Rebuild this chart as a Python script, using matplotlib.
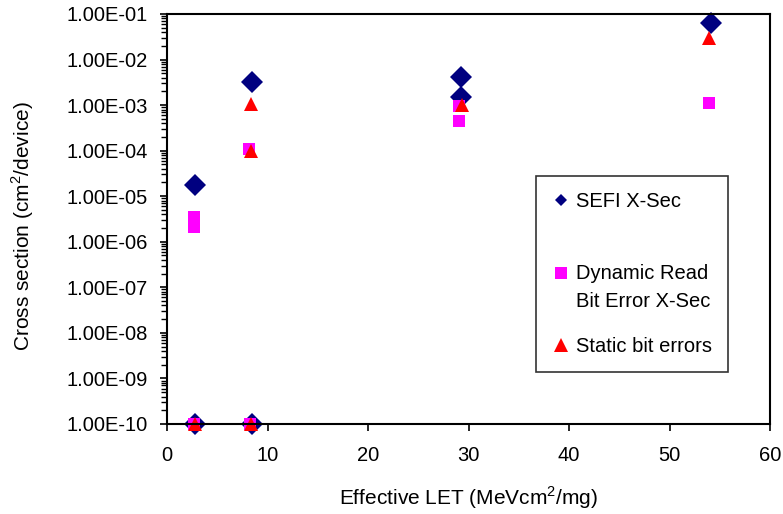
import matplotlib
matplotlib.use("Agg")
import matplotlib.pyplot as plt
from matplotlib.ticker import FuncFormatter, LogLocator, NullFormatter
from matplotlib.lines import Line2D
from matplotlib.legend_handler import HandlerLine2D

plt.rcParams['font.family'] = ['Liberation Sans', 'DejaVu Sans']
plt.rcParams['mathtext.fontset'] = 'custom'
plt.rcParams['mathtext.rm'] = 'Liberation Sans'

# SEFI cross sections
sefi_let = [2.8, 2.8, 8.5, 8.5, 29.3, 29.3, 54.1]
sefi_xs = [1.8e-5, 1e-10, 3.2e-3, 1e-10, 4.2e-3, 1.5e-3, 6.3e-2]

# dynamic read bit errors
dyn_let = [2.7, 2.7, 2.7, 8.2, 8.3, 29.1, 29.1, 53.9]
dyn_xs = [3.5e-6, 2.1e-6, 1e-10, 1.1e-4, 1e-10, 4.5e-4, 9.5e-4, 1.1e-3]

# static bit errors
stat_let = [2.8, 8.4, 8.4, 8.4, 29.4, 53.9]
stat_xs = [1e-10, 1.05e-3, 1.0e-4, 1e-10, 1.0e-3, 3.0e-2]

labels = ['SEFI X-Sec\n ', 'Dynamic Read\nBit Error X-Sec', 'Static bit errors']


# legend marker sits on the first line of a 2-line label (like excel)
class FirstLine(HandlerLine2D):
    def __init__(self, shift=0, **kw):
        super().__init__(**kw)
        self.shift = shift

    def create_artists(self, legend, orig_handle, xdescent, ydescent, width, height, fontsize, trans):
        return super().create_artists(legend, orig_handle, xdescent, ydescent - 2 * self.shift,
                                      width, height, fontsize, trans)


fig = plt.figure(figsize=(7.83, 5.14), dpi=100)
ax = fig.add_axes([0.2133, 0.1751, 0.7701, 0.7977])

ax.plot(sefi_let, sefi_xs, 'D', color='#000080', ms=11, mew=0, clip_on=False)
ax.plot(dyn_let, dyn_xs, 's', color='#FF00FF', ms=8.5, mew=0, clip_on=False)
ax.plot(stat_let, stat_xs, '^', color='#FF0000', ms=10, mew=0, clip_on=False)

ax.set_yscale('log')
ax.set_xlim(0, 60)
ax.set_ylim(1e-10, 1e-1)
ax.set_xticks(range(0, 61, 10))
ax.yaxis.set_major_locator(LogLocator(base=10, numticks=20))
ax.yaxis.set_minor_locator(LogLocator(base=10, subs=range(2, 10), numticks=20))
ax.yaxis.set_minor_formatter(NullFormatter())
ax.yaxis.set_major_formatter(FuncFormatter(lambda v, p: f"{v:.2E}"))

ax.tick_params(axis='both', which='major', direction='out', length=5, width=1.2, labelsize=14.5)
ax.tick_params(axis='x', which='major', pad=11)
ax.tick_params(axis='y', which='major', pad=9)
ax.tick_params(axis='y', which='minor', direction='out', length=4, width=1)
for s in ax.spines.values():
    s.set_linewidth(1.5)

ax.set_xlabel('Effective LET (MeVcm$^2$/mg)', fontsize=15, labelpad=14)
ax.set_ylabel('Cross section (cm$^2$/device)', fontsize=15, labelpad=22)
ax.yaxis.label.set_y(0.483)

handles = [Line2D([], [], ls='none', marker='D', color='#000080', ms=6.6, mew=0),
           Line2D([], [], ls='none', marker='s', color='#FF00FF', ms=8, mew=0),
           Line2D([], [], ls='none', marker='^', color='#FF0000', ms=9.4, mew=0)]
shift = 11
leg = ax.legend(handles, labels, loc='upper left', bbox_to_anchor=(0.612, 0.605), fontsize=14.5,
                frameon=True, fancybox=False, labelspacing=1.3, handlelength=0.9,
                handletextpad=0.3, borderpad=0.8, borderaxespad=0,
                handler_map={handles[0]: FirstLine(shift), handles[1]: FirstLine(shift)})
leg.get_frame().set_edgecolor('black')
leg.get_frame().set_linewidth(1.2)
for t in leg.get_texts():
    t.set_linespacing(1.55)

fig.savefig('out.png', dpi=100)
